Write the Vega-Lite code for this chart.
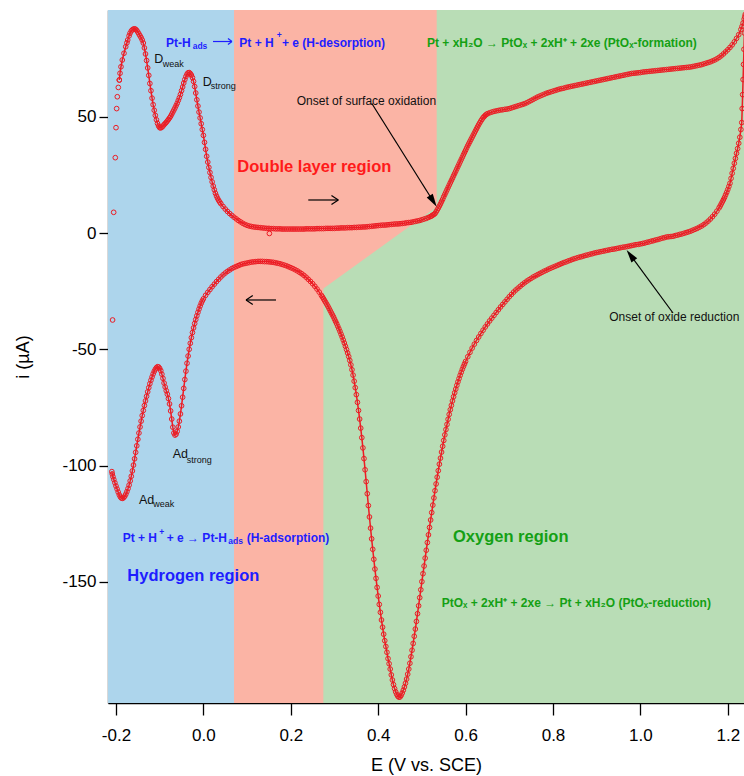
{
"$schema":"https://vega.github.io/schema/vega-lite/v6.json",
"width":636,"height":693,
"autosize":{"type":"none"},
"padding":{"left":108,"top":10,"right":0,"bottom":73},
"background":"white",
"config":{"view":{"stroke":null},"font":"Liberation Sans",
"axis":{"domainColor":"#000","domainWidth":1.3,"tickColor":"#000","tickWidth":1.3,"tickSize":9,"labelFontSize":17,"labelColor":"#000","titleFontSize":18,"titleFontWeight":"normal","titleColor":"#000","grid":false,"labelFont":"Liberation Sans","titleFont":"Liberation Sans"}},
"encoding":{
"x":{"field":"E","type":"quantitative","title":"E (V vs. SCE)","scale":{"domain":[-0.2183,1.2371],"nice":false,"zero":false},
"axis":{"values":[-0.2,0,0.2,0.4,0.6,0.8,1,1.2],"labelExpr":"datum.value < 0 ? '-' + format(-datum.value, '.1f') : format(datum.value, '.1f')","tickSize":12,"labelPadding":12,"titlePadding":13,"labelFlush":false}},
"y":{"field":"i","type":"quantitative","title":"i (µA)","scale":{"domain":[-202.1,95.9],"nice":false,"zero":false},
"axis":{"values":[-150,-100,-50,0,50],"labelExpr":"datum.value < 0 ? '-' + format(-datum.value, 'd') : format(datum.value, 'd')","labelPadding":3,"titlePadding":29}}
},
"datasets":{
"sp":[
{"E":-0.2078,"i":-37.4},{"E":-0.2053,"i":8.9},{"E":-0.2016,"i":32.4},{"E":-0.2,"i":45.3},{"E":-0.1985,"i":53.5},{"E":-0.197,"i":58.6},{"E":-0.1947,"i":62.6},{"E":-0.1924,"i":65.8},{"E":0.151,"i":-0.2}
],
"an":[
{"E":-0.1924,"i":65.8},{"E":-0.1908,"i":68.7},{"E":-0.1886,"i":71.5},{"E":-0.1856,"i":74.4},{"E":-0.1817,"i":77.3},{"E":-0.1778,"i":80.1},{"E":-0.175,"i":81.8},{"E":-0.1732,"i":83},{"E":-0.17,"i":84.8},{"E":-0.168,"i":85.9},{"E":-0.165,"i":86.9},{"E":-0.1625,"i":87.4},{"E":-0.16,"i":87.7},{"E":-0.1575,"i":87.8},{"E":-0.155,"i":87.6},{"E":-0.1525,"i":87.1},{"E":-0.15,"i":86.4},{"E":-0.1475,"i":85.6},{"E":-0.145,"i":84.8},{"E":-0.1425,"i":84},{"E":-0.14,"i":83},{"E":-0.1375,"i":81.7},{"E":-0.135,"i":79.6},{"E":-0.1325,"i":77},{"E":-0.13,"i":74.2},{"E":-0.1275,"i":71},{"E":-0.125,"i":67.8},{"E":-0.1225,"i":64.3},{"E":-0.12,"i":61.2},{"E":-0.1175,"i":58},{"E":-0.115,"i":55.2},{"E":-0.1125,"i":52.8},{"E":-0.11,"i":50.6},{"E":-0.1075,"i":48.7},{"E":-0.105,"i":47.1},{"E":-0.1025,"i":46},{"E":-0.1,"i":45.3},{"E":-0.0975,"i":45.2},{"E":-0.095,"i":45.5},{"E":-0.0925,"i":46},{"E":-0.09,"i":46.6},{"E":-0.0875,"i":47.1},{"E":-0.085,"i":47.6},{"E":-0.0825,"i":48.2},{"E":-0.08,"i":48.8},{"E":-0.0775,"i":49.5},{"E":-0.075,"i":50.2},{"E":-0.0725,"i":51.1},{"E":-0.07,"i":52},{"E":-0.0675,"i":52.9},{"E":-0.065,"i":53.8},{"E":-0.0625,"i":54.8},{"E":-0.06,"i":55.8},{"E":-0.0575,"i":57},{"E":-0.055,"i":58.2},{"E":-0.0525,"i":59.6},{"E":-0.05,"i":61.2},{"E":-0.0475,"i":62.8},{"E":-0.045,"i":64.5},{"E":-0.0425,"i":66},{"E":-0.04,"i":67.3},{"E":-0.0375,"i":68.3},{"E":-0.035,"i":68.9},{"E":-0.0325,"i":69},{"E":-0.03,"i":68.6},{"E":-0.0275,"i":67.9},{"E":-0.025,"i":66.8},{"E":-0.0225,"i":65.2},{"E":-0.02,"i":63},{"E":-0.0175,"i":60.2},{"E":-0.015,"i":57.3},{"E":-0.0125,"i":54.6},{"E":-0.01,"i":52},{"E":-0.0075,"i":49.5},{"E":-0.005,"i":47},{"E":-0.0025,"i":44.5},{"E":0,"i":42},{"E":0.0025,"i":39},{"E":0.005,"i":36},{"E":0.0075,"i":33},{"E":0.01,"i":30.5},{"E":0.0125,"i":28.2},{"E":0.015,"i":26},{"E":0.0175,"i":23.9},{"E":0.02,"i":22},{"E":0.0225,"i":20.2},{"E":0.025,"i":18.6},{"E":0.0275,"i":17.1},{"E":0.03,"i":15.9},{"E":0.0325,"i":14.9},{"E":0.035,"i":14},{"E":0.0375,"i":13.3},{"E":0.04,"i":12.6},{"E":0.045,"i":11.4},{"E":0.05,"i":10.3},{"E":0.055,"i":9.3},{"E":0.06,"i":8.4},{"E":0.065,"i":7.6},{"E":0.07,"i":6.8},{"E":0.075,"i":6.1},{"E":0.08,"i":5.4},{"E":0.085,"i":4.8},{"E":0.09,"i":4.2},{"E":0.095,"i":3.7},{"E":0.1,"i":3.3},{"E":0.105,"i":3},{"E":0.11,"i":2.8},{"E":0.115,"i":2.6},{"E":0.12,"i":2.5},{"E":0.125,"i":2.4},{"E":0.13,"i":2.3},{"E":0.135,"i":2.2},{"E":0.14,"i":2.1},{"E":0.145,"i":2},{"E":0.15,"i":2},{"E":0.155,"i":1.9},{"E":0.16,"i":1.9},{"E":0.165,"i":1.8},{"E":0.17,"i":1.8},{"E":0.175,"i":1.8},{"E":0.18,"i":1.7},{"E":0.185,"i":1.7},{"E":0.19,"i":1.7},{"E":0.195,"i":1.7},{"E":0.2,"i":1.7},{"E":0.205,"i":1.7},{"E":0.21,"i":1.7},{"E":0.215,"i":1.7},{"E":0.22,"i":1.7},{"E":0.225,"i":1.7},{"E":0.23,"i":1.7},{"E":0.235,"i":1.8},{"E":0.24,"i":1.8},{"E":0.245,"i":1.8},{"E":0.25,"i":1.8},{"E":0.255,"i":1.8},{"E":0.26,"i":1.9},{"E":0.265,"i":1.9},{"E":0.27,"i":1.9},{"E":0.275,"i":1.9},{"E":0.28,"i":2},{"E":0.285,"i":2},{"E":0.29,"i":2},{"E":0.295,"i":2},{"E":0.3,"i":2},{"E":0.305,"i":2.1},{"E":0.31,"i":2.1},{"E":0.315,"i":2.2},{"E":0.32,"i":2.2},{"E":0.325,"i":2.2},{"E":0.33,"i":2.3},{"E":0.335,"i":2.3},{"E":0.34,"i":2.3},{"E":0.345,"i":2.4},{"E":0.35,"i":2.4},{"E":0.355,"i":2.5},{"E":0.36,"i":2.5},{"E":0.365,"i":2.6},{"E":0.37,"i":2.6},{"E":0.375,"i":2.7},{"E":0.38,"i":2.8},{"E":0.385,"i":2.9},{"E":0.39,"i":3},{"E":0.395,"i":3.1},{"E":0.4,"i":3.2},{"E":0.405,"i":3.3},{"E":0.41,"i":3.4},{"E":0.415,"i":3.4},{"E":0.42,"i":3.5},{"E":0.425,"i":3.6},{"E":0.43,"i":3.7},{"E":0.435,"i":3.8},{"E":0.44,"i":3.9},{"E":0.445,"i":3.9},{"E":0.45,"i":4},{"E":0.455,"i":4.1},{"E":0.46,"i":4.2},{"E":0.465,"i":4.4},{"E":0.47,"i":4.5},{"E":0.475,"i":4.6},{"E":0.48,"i":4.8},{"E":0.485,"i":5},{"E":0.49,"i":5.2},{"E":0.495,"i":5.4},{"E":0.5,"i":5.7},{"E":0.505,"i":6},{"E":0.51,"i":6.3},{"E":0.515,"i":6.7},{"E":0.52,"i":7.1},{"E":0.5225,"i":7.4},{"E":0.525,"i":7.7},{"E":0.5275,"i":8},{"E":0.53,"i":8.4},{"E":0.5325,"i":9.1},{"E":0.535,"i":9.9},{"E":0.5375,"i":10.7},{"E":0.54,"i":11.6},{"E":0.5425,"i":12.5},{"E":0.545,"i":13.5},{"E":0.5475,"i":14.5},{"E":0.55,"i":15.6},{"E":0.5525,"i":16.6},{"E":0.555,"i":17.6},{"E":0.5575,"i":18.6},{"E":0.56,"i":19.6},{"E":0.5625,"i":20.6},{"E":0.565,"i":21.6},{"E":0.5675,"i":22.6},{"E":0.57,"i":23.6},{"E":0.5725,"i":24.6},{"E":0.575,"i":25.6},{"E":0.5775,"i":26.6},{"E":0.58,"i":27.6},{"E":0.5825,"i":28.6},{"E":0.585,"i":29.6},{"E":0.5875,"i":30.6},{"E":0.59,"i":31.6},{"E":0.5925,"i":32.6},{"E":0.595,"i":33.6},{"E":0.5975,"i":34.6},{"E":0.6,"i":35.6},{"E":0.6025,"i":36.6},{"E":0.605,"i":37.6},{"E":0.6075,"i":38.5},{"E":0.61,"i":39.4},{"E":0.6125,"i":40.3},{"E":0.615,"i":41.2},{"E":0.6175,"i":42.1},{"E":0.62,"i":43},{"E":0.6225,"i":43.9},{"E":0.625,"i":44.8},{"E":0.6275,"i":45.7},{"E":0.63,"i":46.6},{"E":0.6325,"i":47.4},{"E":0.635,"i":48.2},{"E":0.6375,"i":48.9},{"E":0.64,"i":49.6},{"E":0.6425,"i":50.1},{"E":0.645,"i":50.6},{"E":0.6475,"i":51},{"E":0.65,"i":51.3},{"E":0.655,"i":51.7},{"E":0.66,"i":52},{"E":0.665,"i":52.3},{"E":0.67,"i":52.5},{"E":0.675,"i":52.7},{"E":0.68,"i":52.9},{"E":0.685,"i":53},{"E":0.69,"i":53.2},{"E":0.695,"i":53.3},{"E":0.7,"i":53.5},{"E":0.705,"i":53.8},{"E":0.71,"i":54.1},{"E":0.715,"i":54.4},{"E":0.72,"i":54.7},{"E":0.725,"i":55},{"E":0.73,"i":55.3},{"E":0.735,"i":55.6},{"E":0.74,"i":56},{"E":0.745,"i":56.5},{"E":0.75,"i":57},{"E":0.755,"i":57.5},{"E":0.76,"i":58},{"E":0.765,"i":58.5},{"E":0.77,"i":58.9},{"E":0.775,"i":59.3},{"E":0.78,"i":59.7},{"E":0.785,"i":60.1},{"E":0.79,"i":60.4},{"E":0.795,"i":60.7},{"E":0.8,"i":61},{"E":0.805,"i":61.3},{"E":0.81,"i":61.6},{"E":0.815,"i":61.9},{"E":0.82,"i":62.1},{"E":0.825,"i":62.3},{"E":0.83,"i":62.6},{"E":0.835,"i":62.8},{"E":0.84,"i":63},{"E":0.845,"i":63.2},{"E":0.85,"i":63.4},{"E":0.855,"i":63.6},{"E":0.86,"i":63.8},{"E":0.865,"i":64},{"E":0.87,"i":64.2},{"E":0.875,"i":64.4},{"E":0.88,"i":64.6},{"E":0.885,"i":64.8},{"E":0.89,"i":65},{"E":0.895,"i":65.2},{"E":0.9,"i":65.4},{"E":0.905,"i":65.6},{"E":0.91,"i":65.8},{"E":0.915,"i":66},{"E":0.92,"i":66.2},{"E":0.925,"i":66.4},{"E":0.93,"i":66.6},{"E":0.935,"i":66.8},{"E":0.94,"i":67},{"E":0.945,"i":67.2},{"E":0.95,"i":67.4},{"E":0.955,"i":67.6},{"E":0.96,"i":67.8},{"E":0.965,"i":68},{"E":0.97,"i":68.2},{"E":0.975,"i":68.4},{"E":0.98,"i":68.6},{"E":0.985,"i":68.7},{"E":0.99,"i":68.8},{"E":0.995,"i":68.9},{"E":1,"i":69},{"E":1.005,"i":69.2},{"E":1.01,"i":69.3},{"E":1.015,"i":69.4},{"E":1.02,"i":69.5},{"E":1.025,"i":69.6},{"E":1.03,"i":69.7},{"E":1.035,"i":69.8},{"E":1.04,"i":69.9},{"E":1.045,"i":70},{"E":1.05,"i":70.1},{"E":1.055,"i":70.2},{"E":1.06,"i":70.3},{"E":1.065,"i":70.4},{"E":1.07,"i":70.5},{"E":1.075,"i":70.6},{"E":1.08,"i":70.7},{"E":1.085,"i":70.8},{"E":1.09,"i":70.9},{"E":1.095,"i":71},{"E":1.1,"i":71.1},{"E":1.105,"i":71.2},{"E":1.11,"i":71.3},{"E":1.115,"i":71.4},{"E":1.12,"i":71.6},{"E":1.125,"i":71.8},{"E":1.13,"i":72},{"E":1.135,"i":72.2},{"E":1.14,"i":72.4},{"E":1.145,"i":72.7},{"E":1.15,"i":73},{"E":1.155,"i":73.3},{"E":1.16,"i":73.6},{"E":1.165,"i":74},{"E":1.17,"i":74.4},{"E":1.175,"i":74.9},{"E":1.18,"i":75.5},{"E":1.185,"i":76.2},{"E":1.19,"i":77},{"E":1.195,"i":77.9},{"E":1.2,"i":78.8},{"E":1.205,"i":79.8},{"E":1.21,"i":80.9},{"E":1.215,"i":82.2},{"E":1.22,"i":83.7},{"E":1.225,"i":85.3},{"E":1.23,"i":87.5},{"E":1.2325,"i":88.8},{"E":1.235,"i":90.3},{"E":1.2375,"i":92},{"E":1.24,"i":94}
],
"ca":[
{"E":1.239,"i":93},{"E":1.238,"i":86},{"E":1.237,"i":79},{"E":1.236,"i":72.5},{"E":1.235,"i":66},{"E":1.234,"i":59.5},{"E":1.233,"i":53.5},{"E":1.232,"i":47.5},{"E":1.23,"i":44.5},{"E":1.2275,"i":41.2},{"E":1.225,"i":38.6},{"E":1.2225,"i":36.3},{"E":1.22,"i":34.3},{"E":1.2175,"i":32.1},{"E":1.215,"i":30},{"E":1.2125,"i":27.8},{"E":1.21,"i":25.7},{"E":1.2075,"i":23.5},{"E":1.205,"i":21.4},{"E":1.2025,"i":20},{"E":1.2,"i":18.7},{"E":1.1975,"i":17.5},{"E":1.195,"i":16.4},{"E":1.1925,"i":15.3},{"E":1.19,"i":14.3},{"E":1.1875,"i":13.4},{"E":1.185,"i":12.5},{"E":1.1825,"i":11.6},{"E":1.18,"i":10.8},{"E":1.175,"i":9.4},{"E":1.17,"i":8.1},{"E":1.165,"i":7},{"E":1.16,"i":6},{"E":1.155,"i":5.1},{"E":1.15,"i":4.3},{"E":1.145,"i":3.6},{"E":1.14,"i":3},{"E":1.135,"i":2.5},{"E":1.13,"i":2},{"E":1.125,"i":1.6},{"E":1.12,"i":1.2},{"E":1.115,"i":0.8},{"E":1.11,"i":0.5},{"E":1.105,"i":0.2},{"E":1.1,"i":-0.1},{"E":1.095,"i":-0.4},{"E":1.09,"i":-0.6},{"E":1.085,"i":-0.9},{"E":1.08,"i":-1.1},{"E":1.075,"i":-1.4},{"E":1.07,"i":-1.5},{"E":1.065,"i":-1.6},{"E":1.06,"i":-1.7},{"E":1.055,"i":-2},{"E":1.05,"i":-2.2},{"E":1.045,"i":-2.5},{"E":1.04,"i":-2.8},{"E":1.035,"i":-3},{"E":1.03,"i":-3.3},{"E":1.025,"i":-3.5},{"E":1.02,"i":-3.8},{"E":1.015,"i":-4},{"E":1.01,"i":-4.3},{"E":1.005,"i":-4.5},{"E":1,"i":-4.7},{"E":0.995,"i":-4.9},{"E":0.99,"i":-5},{"E":0.985,"i":-5.2},{"E":0.98,"i":-5.4},{"E":0.975,"i":-5.6},{"E":0.97,"i":-5.8},{"E":0.965,"i":-6},{"E":0.96,"i":-6.1},{"E":0.955,"i":-6.3},{"E":0.95,"i":-6.5},{"E":0.945,"i":-6.7},{"E":0.94,"i":-6.9},{"E":0.935,"i":-7},{"E":0.93,"i":-7.2},{"E":0.925,"i":-7.4},{"E":0.92,"i":-7.6},{"E":0.915,"i":-7.8},{"E":0.91,"i":-8},{"E":0.905,"i":-8.2},{"E":0.9,"i":-8.4},{"E":0.895,"i":-8.6},{"E":0.89,"i":-8.9},{"E":0.885,"i":-9.1},{"E":0.88,"i":-9.4},{"E":0.875,"i":-9.6},{"E":0.87,"i":-9.9},{"E":0.865,"i":-10.2},{"E":0.86,"i":-10.4},{"E":0.855,"i":-10.7},{"E":0.85,"i":-11},{"E":0.845,"i":-11.3},{"E":0.84,"i":-11.7},{"E":0.835,"i":-12},{"E":0.83,"i":-12.4},{"E":0.825,"i":-12.7},{"E":0.82,"i":-13.1},{"E":0.815,"i":-13.5},{"E":0.81,"i":-13.9},{"E":0.805,"i":-14.3},{"E":0.8,"i":-14.7},{"E":0.795,"i":-15.1},{"E":0.79,"i":-15.5},{"E":0.785,"i":-16},{"E":0.78,"i":-16.4},{"E":0.775,"i":-16.9},{"E":0.77,"i":-17.4},{"E":0.765,"i":-17.9},{"E":0.76,"i":-18.4},{"E":0.755,"i":-18.9},{"E":0.75,"i":-19.5},{"E":0.745,"i":-20.1},{"E":0.74,"i":-20.7},{"E":0.735,"i":-21.4},{"E":0.73,"i":-22.1},{"E":0.725,"i":-22.9},{"E":0.72,"i":-23.7},{"E":0.715,"i":-24.5},{"E":0.71,"i":-25.4},{"E":0.705,"i":-26.4},{"E":0.7,"i":-27.4},{"E":0.695,"i":-28.5},{"E":0.69,"i":-29.6},{"E":0.685,"i":-30.7},{"E":0.68,"i":-31.8},{"E":0.675,"i":-33},{"E":0.67,"i":-34.2},{"E":0.665,"i":-35.4},{"E":0.66,"i":-36.6},{"E":0.655,"i":-37.8},{"E":0.65,"i":-39.1},{"E":0.645,"i":-40.4},{"E":0.64,"i":-41.8},{"E":0.635,"i":-43.2},{"E":0.63,"i":-44.7},{"E":0.625,"i":-46.2},{"E":0.62,"i":-47.8},{"E":0.615,"i":-49.5},{"E":0.61,"i":-51.3},{"E":0.605,"i":-53.2},{"E":0.6,"i":-55.2},{"E":0.5975,"i":-56.3},{"E":0.595,"i":-57.4},{"E":0.5925,"i":-58.6},{"E":0.59,"i":-59.9},{"E":0.5875,"i":-61.2},{"E":0.585,"i":-62.6},{"E":0.5825,"i":-64},{"E":0.58,"i":-65.5},{"E":0.5775,"i":-67.1},{"E":0.575,"i":-68.7},{"E":0.5725,"i":-70.4},{"E":0.57,"i":-72.2},{"E":0.5675,"i":-74.1},{"E":0.565,"i":-76},{"E":0.5625,"i":-78},{"E":0.56,"i":-80.1},{"E":0.5575,"i":-82.3},{"E":0.555,"i":-84.5},{"E":0.5525,"i":-86.8},{"E":0.55,"i":-89.2},{"E":0.5475,"i":-91.7},{"E":0.545,"i":-94.2},{"E":0.5425,"i":-96.8},{"E":0.54,"i":-99.4},{"E":0.5375,"i":-102.2},{"E":0.535,"i":-105},{"E":0.5325,"i":-107.9},{"E":0.53,"i":-110.8},{"E":0.5275,"i":-113.9},{"E":0.525,"i":-117},{"E":0.5225,"i":-120.2},{"E":0.52,"i":-123.4},{"E":0.5175,"i":-126.6},{"E":0.515,"i":-129.8},{"E":0.5125,"i":-133.1},{"E":0.51,"i":-136.4},{"E":0.5075,"i":-139.8},{"E":0.505,"i":-143.2},{"E":0.5025,"i":-146.5},{"E":0.5,"i":-149.9},{"E":0.4975,"i":-153.4},{"E":0.495,"i":-156.8},{"E":0.4925,"i":-160.3},{"E":0.49,"i":-163.7},{"E":0.4875,"i":-167},{"E":0.485,"i":-170.3},{"E":0.4825,"i":-173.4},{"E":0.48,"i":-176.5},{"E":0.4775,"i":-179.4},{"E":0.475,"i":-182.2},{"E":0.4725,"i":-185},{"E":0.47,"i":-187.5},{"E":0.4675,"i":-189.7},{"E":0.465,"i":-191.8},{"E":0.4625,"i":-193.6},{"E":0.46,"i":-195.2},{"E":0.4575,"i":-196.6},{"E":0.455,"i":-197.8},{"E":0.4525,"i":-198.8},{"E":0.45,"i":-199.5},{"E":0.4475,"i":-199.6},{"E":0.445,"i":-199.2},{"E":0.4425,"i":-198.4},{"E":0.44,"i":-197.3},{"E":0.4375,"i":-195.9},{"E":0.435,"i":-194.2},{"E":0.4325,"i":-192.2},{"E":0.43,"i":-190},{"E":0.4275,"i":-187.5},{"E":0.425,"i":-185.2},{"E":0.4225,"i":-183},{"E":0.42,"i":-180.3},{"E":0.4175,"i":-177.8},{"E":0.415,"i":-175.3},{"E":0.4125,"i":-172.5},{"E":0.41,"i":-169.5},{"E":0.4075,"i":-166.4},{"E":0.405,"i":-163.1},{"E":0.4025,"i":-159.7},{"E":0.4,"i":-156.1},{"E":0.3975,"i":-152.4},{"E":0.395,"i":-148.5},{"E":0.3925,"i":-144.5},{"E":0.39,"i":-140.3},{"E":0.3875,"i":-136},{"E":0.385,"i":-131.5},{"E":0.3825,"i":-126.9},{"E":0.38,"i":-122.1},{"E":0.3775,"i":-117.2},{"E":0.375,"i":-112.1},{"E":0.3725,"i":-106.9},{"E":0.37,"i":-101.8},{"E":0.3675,"i":-97},{"E":0.365,"i":-92.4},{"E":0.3625,"i":-88},{"E":0.36,"i":-83.9},{"E":0.3575,"i":-80},{"E":0.355,"i":-76.3},{"E":0.3525,"i":-72.8},{"E":0.35,"i":-69.5},{"E":0.3475,"i":-66.5},{"E":0.345,"i":-63.7},{"E":0.3425,"i":-61.1},{"E":0.34,"i":-58.8},{"E":0.3375,"i":-56.7},{"E":0.335,"i":-54.8},{"E":0.3325,"i":-53.1},{"E":0.33,"i":-51.6},{"E":0.3275,"i":-50.1},{"E":0.325,"i":-48.7},{"E":0.3225,"i":-47.3},{"E":0.32,"i":-46},{"E":0.3175,"i":-44.7},{"E":0.315,"i":-43.5},{"E":0.3125,"i":-42.3},{"E":0.31,"i":-41.2},{"E":0.3075,"i":-40.1},{"E":0.305,"i":-39},{"E":0.3025,"i":-38},{"E":0.3,"i":-37},{"E":0.2975,"i":-36},{"E":0.295,"i":-35.1},{"E":0.2925,"i":-34.2},{"E":0.29,"i":-33.3},{"E":0.2875,"i":-32.4},{"E":0.285,"i":-31.5},{"E":0.2825,"i":-30.7},{"E":0.28,"i":-29.9},{"E":0.2775,"i":-29.1},{"E":0.275,"i":-28.3},{"E":0.2725,"i":-27.5},{"E":0.27,"i":-26.8},{"E":0.265,"i":-25.4},{"E":0.26,"i":-24.1},{"E":0.255,"i":-22.9},{"E":0.25,"i":-21.8},{"E":0.245,"i":-20.8},{"E":0.24,"i":-19.9},{"E":0.235,"i":-19},{"E":0.23,"i":-18.2},{"E":0.225,"i":-17.5},{"E":0.22,"i":-16.9},{"E":0.215,"i":-16.3},{"E":0.21,"i":-15.8},{"E":0.205,"i":-15.3},{"E":0.2,"i":-14.9},{"E":0.195,"i":-14.5},{"E":0.19,"i":-14.1},{"E":0.185,"i":-13.8},{"E":0.18,"i":-13.5},{"E":0.175,"i":-13.2},{"E":0.17,"i":-13},{"E":0.165,"i":-12.8},{"E":0.16,"i":-12.6},{"E":0.155,"i":-12.5},{"E":0.15,"i":-12.4},{"E":0.145,"i":-12.3},{"E":0.14,"i":-12.3},{"E":0.135,"i":-12.2},{"E":0.13,"i":-12.2},{"E":0.125,"i":-12.2},{"E":0.12,"i":-12.3},{"E":0.115,"i":-12.4},{"E":0.11,"i":-12.5},{"E":0.105,"i":-12.7},{"E":0.1,"i":-12.9},{"E":0.095,"i":-13.1},{"E":0.09,"i":-13.3},{"E":0.085,"i":-13.6},{"E":0.08,"i":-14},{"E":0.075,"i":-14.4},{"E":0.07,"i":-14.8},{"E":0.065,"i":-15.3},{"E":0.06,"i":-15.9},{"E":0.055,"i":-16.5},{"E":0.05,"i":-17.2},{"E":0.045,"i":-18},{"E":0.04,"i":-18.9},{"E":0.035,"i":-19.9},{"E":0.03,"i":-20.9},{"E":0.025,"i":-22},{"E":0.02,"i":-23.1},{"E":0.015,"i":-24.3},{"E":0.01,"i":-25.5},{"E":0.005,"i":-26.8},{"E":0,"i":-28.3},{"E":-0.0025,"i":-29.2},{"E":-0.005,"i":-30.2},{"E":-0.0075,"i":-31.4},{"E":-0.01,"i":-32.7},{"E":-0.0125,"i":-34.1},{"E":-0.015,"i":-35.6},{"E":-0.0175,"i":-37.2},{"E":-0.02,"i":-38.9},{"E":-0.0225,"i":-40.8},{"E":-0.025,"i":-42.8},{"E":-0.0275,"i":-45},{"E":-0.03,"i":-47.4},{"E":-0.0325,"i":-50},{"E":-0.035,"i":-52.9},{"E":-0.0375,"i":-56},{"E":-0.04,"i":-59.4},{"E":-0.0425,"i":-63},{"E":-0.045,"i":-66.8},{"E":-0.0475,"i":-70.6},{"E":-0.05,"i":-74.3},{"E":-0.0525,"i":-77.8},{"E":-0.055,"i":-80.9},{"E":-0.0575,"i":-83.4},{"E":-0.06,"i":-85.3},{"E":-0.0625,"i":-86.5},{"E":-0.065,"i":-86.9},{"E":-0.0675,"i":-86},{"E":-0.07,"i":-83.5},{"E":-0.0725,"i":-80},{"E":-0.075,"i":-76.5},{"E":-0.0775,"i":-73.5},{"E":-0.08,"i":-71.2},{"E":-0.0825,"i":-69.3},{"E":-0.085,"i":-67.8},{"E":-0.0875,"i":-66.2},{"E":-0.09,"i":-64.5},{"E":-0.0925,"i":-62.5},{"E":-0.095,"i":-60.7},{"E":-0.0975,"i":-59.2},{"E":-0.1,"i":-58.2},{"E":-0.1025,"i":-57.6},{"E":-0.105,"i":-57.5},{"E":-0.1075,"i":-57.9},{"E":-0.11,"i":-58.6},{"E":-0.1125,"i":-59.5},{"E":-0.115,"i":-60.6},{"E":-0.1175,"i":-61.9},{"E":-0.12,"i":-63.3},{"E":-0.1225,"i":-64.8},{"E":-0.125,"i":-66.5},{"E":-0.1275,"i":-68.3},{"E":-0.13,"i":-70.2},{"E":-0.1325,"i":-72.2},{"E":-0.135,"i":-74.2},{"E":-0.1375,"i":-76.3},{"E":-0.14,"i":-78.5},{"E":-0.1425,"i":-80.9},{"E":-0.145,"i":-83.4},{"E":-0.1475,"i":-86},{"E":-0.15,"i":-88.7},{"E":-0.1525,"i":-91.5},{"E":-0.155,"i":-94.3},{"E":-0.1575,"i":-97.1},{"E":-0.16,"i":-99.8},{"E":-0.1625,"i":-102.3},{"E":-0.165,"i":-104.6},{"E":-0.1675,"i":-106.6},{"E":-0.17,"i":-108.4},{"E":-0.1725,"i":-109.9},{"E":-0.175,"i":-111.2},{"E":-0.1775,"i":-112.3},{"E":-0.18,"i":-113.2},{"E":-0.1825,"i":-113.8},{"E":-0.185,"i":-114.1},{"E":-0.1875,"i":-114},{"E":-0.19,"i":-113.5},{"E":-0.1925,"i":-112.6},{"E":-0.195,"i":-111.4},{"E":-0.1975,"i":-110.1},{"E":-0.2,"i":-108.8},{"E":-0.2025,"i":-107.4},{"E":-0.205,"i":-106},{"E":-0.207,"i":-104.8},{"E":-0.2085,"i":-103.6},{"E":-0.2095,"i":-102.6}
],
"arrowsK":[
{"E":0.24,"i":14.2,"E2":0.3087,"i2":14.2},{"E":0.3087,"i":14.2,"E2":0.2931,"i2":16.13},{"E":0.3087,"i":14.2,"E2":0.2931,"i2":12.26},
{"E":0.0975,"i":-28.8,"E2":0.1661,"i2":-28.8},{"E":0.0975,"i":-28.8,"E2":0.113,"i2":-26.87},{"E":0.0975,"i":-28.8,"E2":0.113,"i2":-30.74},
{"E":0.3851,"i":55.78,"E2":0.5259,"i2":13.68},{"E":1.0746,"i":-34.4,"E2":0.9773,"i2":-9.54}
],
"arrowsB":[
{"E":0.022,"i":82.35,"E2":0.0654,"i2":82.35},{"E":0.0654,"i":82.35,"E2":0.0563,"i2":83.64},{"E":0.0654,"i":82.35,"E2":0.0563,"i2":81.06}
]
},
"layer":[
{"data":{"values":[{"E":0.07,"E2":1.2371,"i":-202.1,"i2":95.9}]},
"mark":{"type":"rect","color":"#b9ddb6"},
"encoding":{"x2":{"field":"E2"},"y2":{"field":"i2"}}},
{"data":{"values":[{"E":-0.2183,"E2":0.07,"i":-202.1,"i2":95.9}]},
"mark":{"type":"rect","color":"#add5ec"},
"encoding":{"x2":{"field":"E2"},"y2":{"field":"i2"}}},
{"data":{"values":[{"E":0.07,"i":-202.1,"i2":95.9},{"E":0.2745,"i":-202.1,"i2":95.9},{"E":0.2746,"i":-23.9,"i2":95.9},{"E":0.5339,"i":11.3,"i2":95.9}]},
"mark":{"type":"area","color":"#fbb4a5","opacity":1,"interpolate":"linear"},
"encoding":{"y2":{"field":"i2"}}},
{"data":{"name":"an"},"mark":{"type":"line","color":"#ec1c24","strokeWidth":1.5,"clip":true},"encoding":{}},
{"data":{"name":"ca"},"mark":{"type":"line","color":"#ec1c24","strokeWidth":1.5,"clip":true},"encoding":{}},
{"data":{"name":"an"},"mark":{"type":"point","filled":false,"stroke":"#ec1c24","strokeWidth":1,"size":22,"clip":true,"opacity":1},"encoding":{}},
{"data":{"name":"ca"},"mark":{"type":"point","filled":false,"stroke":"#ec1c24","strokeWidth":1,"size":22,"clip":true,"opacity":1},"encoding":{}},
{"data":{"name":"sp"},"mark":{"type":"point","filled":false,"stroke":"#ec1c24","strokeWidth":1,"size":22,"clip":true,"opacity":1},"encoding":{}},
{"data":{"name":"arrowsK"},
"mark":{"type":"rule","color":"#000","strokeWidth":1.2},
"encoding":{"x2":{"field":"E2"},"y2":{"field":"i2"}}},
{"data":{"name":"arrowsB"},
"mark":{"type":"rule","color":"#1e1eff","strokeWidth":1.2},
"encoding":{"x2":{"field":"E2"},"y2":{"field":"i2"}}},
{"data":{"values":[{"E":0.5259,"i":13.68}]},
"mark":{"type":"point","shape":"M0,-1L0.55,1L-0.55,1Z","filled":true,"color":"#000","opacity":1,"size":169,"angle":147.9},"encoding":{}},
{"data":{"values":[{"E":0.9773,"i":-9.54}]},
"mark":{"type":"point","shape":"M0,-1L0.55,1L-0.55,1Z","filled":true,"color":"#000","opacity":1,"size":169,"angle":323.7},"encoding":{}},
{"data":{"values":[{"E":0.2135,"i":55.26,"t":"Onset of surface oxidation"},{"E":0.9288,"i":-37.7,"t":"Onset of oxide reduction"}]},
"mark":{"type":"text","align":"left","baseline":"alphabetic","fontSize":12,"color":"#111","font":"Liberation Sans"},
"encoding":{"text":{"field":"t"}}},
{"data":{"values":[{"E":-0.1124,"i":72.98,"t":"D"},{"E":-0.0016,"i":63.22,"t":"D"},{"E":-0.0703,"i":-96.88,"t":"Ad"},{"E":-0.1474,"i":-116.53,"t":"Ad"}]},
"mark":{"type":"text","align":"left","baseline":"alphabetic","fontSize":12.5,"color":"#111","font":"Liberation Sans"},
"encoding":{"text":{"field":"t"}}},
{"data":{"values":[{"E":-0.0931,"i":71.52,"t":"weak"},{"E":0.0167,"i":61.8,"t":"strong"},{"E":-0.0382,"i":-98.77,"t":"strong"},{"E":-0.1146,"i":-117.69,"t":"weak"}]},
"mark":{"type":"text","align":"left","baseline":"alphabetic","fontSize":9,"color":"#111","font":"Liberation Sans"},
"encoding":{"text":{"field":"t"}}},
{"data":{"values":[{"E":-0.0856,"i":80.2,"t":"Pt-H"},{"E":0.0822,"i":80.2,"t":"Pt + H"},{"E":0.1799,"i":80.2,"t":"+ e (H-desorption)"},{"E":-0.1847,"i":-132.74,"t":"Pt + H"},{"E":-0.084,"i":-132.74,"t":"+ e → Pt-H"},{"E":0.0991,"i":-132.74,"t":"(H-adsorption)"}]},
"mark":{"type":"text","align":"left","baseline":"alphabetic","fontSize":12,"fontWeight":"bold","color":"#1e1eff","font":"Liberation Sans"},
"encoding":{"text":{"field":"t"}}},
{"data":{"values":[{"E":-0.0245,"i":79.0,"t":"ads"},{"E":0.057,"i":-133.94,"t":"ads"},{"E":0.1677,"i":83.99,"t":"+"},{"E":-0.1009,"i":-130.03,"t":"+"}]},
"mark":{"type":"text","align":"left","baseline":"alphabetic","fontSize":8.5,"fontWeight":"bold","color":"#1e1eff","font":"Liberation Sans"},
"encoding":{"text":{"field":"t"}}},
{"data":{"values":[{"E":0.5117,"i":80.2,"t":"Pt + xH₂O → PtOₓ + 2xH⁺ + 2xe (PtOₓ-formation)"},{"E":0.5453,"i":-160.82,"t":"PtOₓ + 2xH⁺ + 2xe → Pt + xH₂O (PtOₓ-reduction)"}]},
"mark":{"type":"text","align":"left","baseline":"alphabetic","fontSize":12,"fontWeight":"bold","color":"#14a014","font":"Liberation Sans"},
"encoding":{"text":{"field":"t"}}},
{"data":{"values":[{"E":-0.1741,"i":-149.51,"t":"Hydrogen region"}]},
"mark":{"type":"text","align":"left","baseline":"alphabetic","fontSize":16.5,"fontWeight":"bold","color":"#1e1eff","font":"Liberation Sans"},
"encoding":{"text":{"field":"t"}}},
{"data":{"values":[{"E":0.5712,"i":-132.9,"t":"Oxygen region"}]},
"mark":{"type":"text","align":"left","baseline":"alphabetic","fontSize":16.5,"fontWeight":"bold","color":"#14a014","font":"Liberation Sans"},
"encoding":{"text":{"field":"t"}}},
{"data":{"values":[{"E":0.0776,"i":26.37,"t":"Double layer region"}]},
"mark":{"type":"text","align":"left","baseline":"alphabetic","fontSize":16.5,"fontWeight":"bold","color":"#ff1a1a","font":"Liberation Sans"},
"encoding":{"text":{"field":"t"}}}
]
}
